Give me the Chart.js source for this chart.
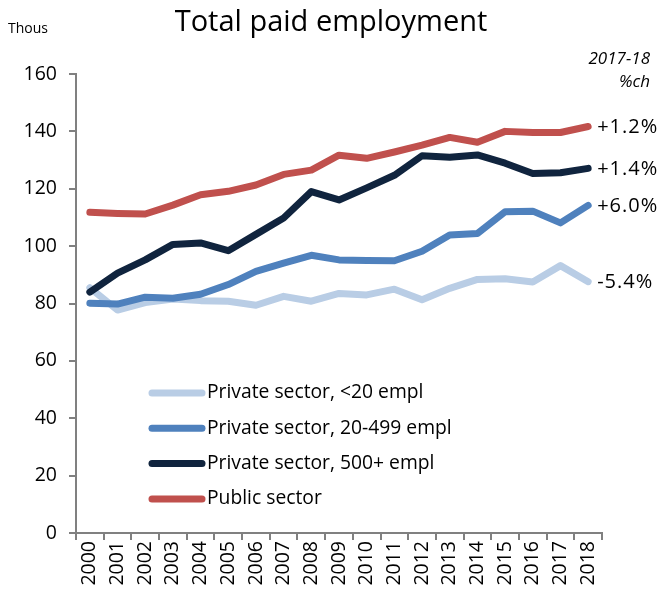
<!DOCTYPE html>
<html>
<head>
<meta charset="utf-8">
<script src="https://cdn.jsdelivr.net/npm/chart.js@4.4.0/dist/chart.umd.min.js"></script>
<style>
    html, body { margin: 0; padding: 0; background: #fff; }
    #wrap { width: 660px; height: 596px; position: relative; }
</style>
</head>
<body>
<div id="wrap"><canvas id="employmentChart"></canvas></div>
<script>
        // data (thousands)
        const years = ['2000', '2001', '2002', '2003', '2004', '2005', '2006', '2007', '2008', '2009',
                       '2010', '2011', '2012', '2013', '2014', '2015', '2016', '2017', '2018'];
        const privateSmall = [85.5, 77.7, 80.3, 81.6, 81.0, 80.8, 79.4, 82.5, 80.8, 83.5,
                              83.0, 85.0, 81.3, 85.3, 88.4, 88.6, 87.5, 93.2, 87.6];
        const privateMid = [80.1, 79.8, 82.2, 81.8, 83.2, 86.6, 91.2, 94.1, 96.8, 95.2,
                            95.0, 94.9, 98.2, 103.9, 104.4, 112.0, 112.2, 108.1, 114.2];
        const privateLarge = [84.0, 90.6, 95.2, 100.6, 101.1, 98.4, 104.1, 109.8, 119.0, 116.1,
                              120.3, 124.7, 131.5, 131.0, 131.8, 128.9, 125.3, 125.6, 127.1];
        const publicSector = [111.8, 111.4, 111.2, 114.3, 117.9, 119.1, 121.3, 125.0, 126.5, 131.7,
                              130.6, 132.8, 135.2, 137.9, 136.2, 140.0, 139.6, 139.6, 141.7];
        const seriesNames = ['Private sector, <20 empl', 'Private sector, 20-499 empl',
                             'Private sector, 500+ empl', 'Public sector'];
        const seriesColors = ['#B9CDE5', '#4F81BD', '#10243E', '#C0504D'];
        const changeLabels = ['-5.4%', '+6.0%', '+1.4%', '+1.2%'];
        const yMin = 0, yMax = 160, yStep = 20;

        const FONT = '"Open Sans", "Noto Sans", sans-serif';
        const AXIS_GREY = '#808080';

        // texts around the plot, end-of-line labels and the legend
        const annotations = {
            id: 'annotations',
            afterDraw(chart) {
                const ctx = chart.ctx;
                const area = chart.chartArea;
                ctx.save();
                ctx.fillStyle = '#000';
                ctx.textBaseline = 'middle';

                ctx.font = '29px ' + FONT;
                ctx.textAlign = 'center';
                ctx.fillText('Total paid employment', 331, 23);

                ctx.font = '14px ' + FONT;
                ctx.textAlign = 'left';
                ctx.fillText('Thous', 8, 29);

                ctx.font = 'italic 17px ' + FONT;
                ctx.textAlign = 'right';
                ctx.fillText('2017-18', 650, 59);
                ctx.fillText('%ch', 650, 82);

                // change labels next to the last point of each line
                ctx.font = '20px ' + FONT;
                ctx.textAlign = 'left';
                if ('letterSpacing' in ctx) ctx.letterSpacing = '1px';
                chart.data.datasets.forEach((ds, i) => {
                    const pts = chart.getDatasetMeta(i).data;
                    const last = pts[pts.length - 1];
                    ctx.fillText(changeLabels[i], last.x + 9, last.y + 1);
                });
                if ('letterSpacing' in ctx) ctx.letterSpacing = '0px';

                // legend inside the plot
                const lx = area.left + 72;
                ctx.font = '19.3px ' + FONT;
                ctx.lineCap = 'round';
                ctx.lineWidth = 7;
                seriesNames.forEach((name, i) => {
                    const ly = 393 + i * 35.3;
                    ctx.strokeStyle = seriesColors[i];
                    ctx.beginPath();
                    ctx.moveTo(lx + 4, ly);
                    ctx.lineTo(lx + 54, ly);
                    ctx.stroke();
                    ctx.fillText(name, lx + 59, ly);
                });
                ctx.restore();
            }
        };

        function makeSeries(label, data, color, order) {
            return {
                label: label,
                data: data,
                borderColor: color,
                backgroundColor: color,
                borderWidth: 7,
                borderCapStyle: 'round',
                borderJoinStyle: 'round',
                pointRadius: 0,
                tension: 0,
                fill: false,
                order: order
            };
        }

        new Chart(document.getElementById('employmentChart'), {
            type: 'line',
            data: {
                labels: years,
                datasets: [
                    makeSeries(seriesNames[0], privateSmall, seriesColors[0], 4),
                    makeSeries(seriesNames[1], privateMid, seriesColors[1], 3),
                    makeSeries(seriesNames[2], privateLarge, seriesColors[2], 2),
                    makeSeries(seriesNames[3], publicSector, seriesColors[3], 1)
                ]
            },
            options: {
                responsive: true,
                maintainAspectRatio: false,
                animation: false,
                layout: { padding: { top: 74, right: 58, left: 0, bottom: 0 } },
                plugins: {
                    legend: { display: false },
                    tooltip: { enabled: false }
                },
                scales: {
                    x: {
                        offset: true,
                        grid: { offset: true, drawOnChartArea: false, tickLength: 7, color: AXIS_GREY, lineWidth: 2 },
                        border: { color: AXIS_GREY, width: 2 },
                        ticks: {
                            color: '#000',
                            font: { family: FONT, size: 19.5 },
                            minRotation: 90,
                            maxRotation: 90,
                            padding: 1,
                            autoSkip: false
                        },
                        afterFit(scale) { scale.height = 63; }
                    },
                    y: {
                        min: yMin,
                        max: yMax,
                        grid: { drawOnChartArea: false, tickLength: 7, color: AXIS_GREY, lineWidth: 2 },
                        border: { color: AXIS_GREY, width: 2 },
                        ticks: {
                            stepSize: yStep,
                            color: '#000',
                            font: { family: FONT, size: 19.5 },
                            padding: 12
                        },
                        afterFit(scale) { scale.width = 76; }
                    }
                }
            },
            plugins: [annotations]
        });
</script>
</body>
</html>
